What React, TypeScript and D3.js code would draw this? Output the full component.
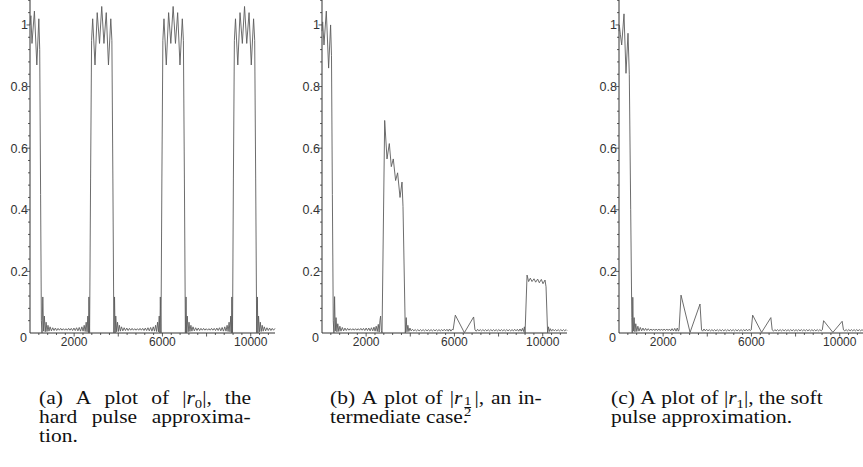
import React, { useLayoutEffect, useRef } from 'react';
import * as d3 from 'd3';

const W = 863;
const H = 467;

// axis ticks
const xTickLabels = [2000, 6000, 10000];
const yTickLabels = [0.2, 0.4, 0.6, 0.8, 1];
const xDomain: [number, number] = [0, 11100];
const yDomain: [number, number] = [0, 1.081];

// |r0| : hard pulse approximation
const seriesA: [number, number][] = [
  [0,1.0],[40,1.03],[90,0.94],[200,1.045],[310,0.87],[400,1.02],[440,0.92],[480,0.45],[515,0.04],[545,0.0],[580,0.117],[615,0.006],[650,0.055],[690,0.004],[730,0.035],[770,0.005],[815,0.025],[860,0.006],[910,0.02],[970,0.007],[1030,0.017],[1090,0.008],[1150,0.016],[1210,0.008],[1270,0.015],[1330,0.009],[1390,0.015],[1450,0.009],[1510,0.014],[1570,0.009],[1630,0.014],[1690,0.009],[1750,0.015],[1810,0.009],[1870,0.015],[1930,0.008],[1990,0.016],[2050,0.008],[2110,0.017],[2170,0.007],[2230,0.018],[2290,0.006],[2350,0.02],[2405,0.006],[2455,0.025],[2500,0.005],[2545,0.035],[2585,0.004],[2620,0.055],[2650,0.0],[2670,0.117],[2700,0.0],
  [2745,0.5],[2790,0.95],[2840,1.02],[2945,0.87],[3045,1.04],[3150,0.94],[3250,1.06],[3350,0.94],[3455,1.04],[3555,0.87],[3660,1.02],[3710,0.95],[3755,0.5],[3800,0.0],[3830,0.117],[3855,0.0],[3885,0.055],[3925,0.004],[3965,0.035],[4005,0.005],[4050,0.025],[4095,0.006],[4145,0.02],[4205,0.007],[4265,0.017],[4325,0.008],[4385,0.016],[4445,0.008],[4505,0.015],[4565,0.009],[4625,0.015],[4685,0.009],[4745,0.014],[4805,0.009],[4865,0.014],[4925,0.009],[4985,0.015],[5045,0.009],[5105,0.015],[5165,0.008],[5225,0.016],[5285,0.008],[5345,0.017],[5405,0.007],[5465,0.018],[5525,0.006],[5585,0.02],[5640,0.006],[5690,0.025],[5735,0.005],[5780,0.035],[5820,0.004],[5855,0.055],[5885,0.0],[5905,0.117],[5935,0.0],
  [5975,0.5],[6020,0.95],[6070,1.02],[6175,0.87],[6280,1.04],[6380,0.94],[6485,1.06],[6590,0.94],[6690,1.04],[6795,0.87],[6900,1.02],[6950,0.95],[6995,0.5],[7040,0.0],[7070,0.117],[7095,0.0],[7125,0.055],[7165,0.004],[7205,0.035],[7245,0.005],[7290,0.025],[7335,0.006],[7385,0.02],[7445,0.007],[7505,0.017],[7565,0.008],[7625,0.016],[7685,0.008],[7745,0.015],[7805,0.009],[7865,0.015],[7925,0.009],[7985,0.014],[8045,0.009],[8105,0.014],[8165,0.009],[8225,0.015],[8285,0.009],[8345,0.015],[8405,0.008],[8465,0.016],[8525,0.008],[8585,0.017],[8645,0.007],[8705,0.018],[8765,0.006],[8825,0.02],[8880,0.006],[8930,0.025],[8975,0.005],[9020,0.035],[9060,0.004],[9095,0.055],[9125,0.0],[9145,0.117],[9175,0.0],
  [9215,0.5],[9260,0.95],[9310,1.02],[9415,0.87],[9515,1.04],[9620,0.94],[9720,1.06],[9820,0.94],[9925,1.04],[10025,0.87],[10130,1.02],[10180,0.95],[10225,0.5],[10270,0.0],[10300,0.117],[10325,0.0],[10355,0.055],[10395,0.004],[10435,0.035],[10475,0.005],[10520,0.025],[10565,0.006],[10615,0.02],[10675,0.007],[10735,0.017],[10795,0.008],[10855,0.016],[10915,0.008],[10975,0.015],[11035,0.009],[11100,0.015],
];

// |r_{1/2}| : intermediate case
const seriesB: [number, number][] = [
  [0,0.98],[30,1.01],[90,0.935],[195,1.045],[300,0.86],[390,1.0],[430,0.9],[470,0.45],[510,0.04],[540,0.0],[570,0.118],[600,0.006],[635,0.05],[675,0.004],[715,0.03],[760,0.005],[810,0.022],[860,0.006],[920,0.018],[980,0.007],[1040,0.016],[1100,0.008],[1160,0.015],[1220,0.009],[1280,0.014],[1340,0.009],[1400,0.014],[1460,0.009],[1520,0.014],[1580,0.009],[1640,0.014],[1700,0.009],[1760,0.015],[1820,0.009],[1880,0.015],[1940,0.008],[2000,0.016],[2060,0.008],[2120,0.016],[2180,0.007],[2240,0.017],[2300,0.007],[2355,0.019],[2405,0.006],[2455,0.022],[2505,0.005],[2550,0.028],[2590,0.003],[2625,0.04],[2655,0.055],[2690,0.008],[2720,0.0],
  [2840,0.69],[2945,0.565],[3050,0.615],[3140,0.54],[3230,0.565],[3335,0.495],[3425,0.52],[3535,0.44],[3625,0.49],[3670,0.41],[3775,0.0],[3815,0.05],[3850,0.004],[3890,0.025],[3935,0.005],[3985,0.016],[4040,0.007],[4100,0.012],[4160,0.007],[4220,0.011],[4280,0.007],[4340,0.011],[4400,0.007],[4460,0.011],[4520,0.007],[4580,0.011],[4640,0.007],[4700,0.011],[4760,0.007],[4820,0.011],[4880,0.007],[4940,0.011],[5000,0.007],[5060,0.011],[5120,0.007],[5180,0.011],[5240,0.007],[5300,0.011],[5360,0.007],[5420,0.011],[5480,0.007],[5540,0.012],[5600,0.007],[5660,0.012],[5720,0.006],[5780,0.013],[5840,0.006],[5900,0.012],[5940,0.01],
  [6040,0.058],[6450,0.001],[6870,0.052],[6930,0.01],[6990,0.006],[7050,0.012],[7110,0.007],[7170,0.011],[7230,0.007],[7290,0.011],[7350,0.007],[7410,0.011],[7470,0.007],[7530,0.011],[7590,0.007],[7650,0.011],[7710,0.007],[7770,0.011],[7830,0.007],[7890,0.011],[7950,0.007],[8010,0.011],[8070,0.007],[8130,0.011],[8190,0.007],[8250,0.011],[8310,0.007],[8370,0.011],[8430,0.007],[8490,0.011],[8550,0.007],[8610,0.011],[8670,0.007],[8730,0.012],[8790,0.007],[8850,0.012],[8910,0.006],[8970,0.013],[9030,0.006],[9080,0.015],[9130,0.005],[9170,0.02],[9200,0.0],
  [9290,0.188],[9362,0.167],[9438,0.178],[9515,0.167],[9605,0.176],[9680,0.165],[9770,0.175],[9846,0.163],[9937,0.174],[10013,0.16],[10104,0.172],[10150,0.15],[10222,0.0],[10260,0.02],[10300,0.005],[10345,0.014],[10400,0.006],[10460,0.012],[10520,0.007],[10580,0.011],[10640,0.007],[10700,0.011],[10760,0.007],[10820,0.011],[10880,0.007],[10940,0.011],[11000,0.007],[11060,0.011],[11100,0.008],
];

// |r1| : soft pulse approximation
const seriesC: [number, number][] = [
  [0,0.98],[14,1.0],[60,0.97],[122,0.935],[227,1.036],[317,0.843],[408,0.973],[467,0.84],[530,0.4],[580,0.05],[600,0.0],[625,0.116],[650,0.006],[685,0.05],[720,0.004],[760,0.03],[805,0.005],[855,0.022],[905,0.006],[965,0.018],[1025,0.007],[1085,0.016],[1145,0.008],[1205,0.015],[1265,0.008],[1325,0.014],[1385,0.008],[1445,0.013],[1505,0.008],[1565,0.013],[1625,0.008],[1685,0.013],[1745,0.008],[1805,0.013],[1865,0.008],[1925,0.013],[1985,0.008],[2045,0.013],[2105,0.008],[2165,0.013],[2225,0.008],[2285,0.013],[2345,0.007],[2405,0.014],[2465,0.007],[2525,0.015],[2585,0.006],[2640,0.016],[2690,0.006],[2720,0.01],
  [2810,0.123],[3220,0.002],[3670,0.094],[3740,0.01],[3790,0.006],[3850,0.013],[3910,0.007],[3970,0.012],[4030,0.007],[4090,0.011],[4150,0.007],[4210,0.011],[4270,0.007],[4330,0.011],[4390,0.007],[4450,0.011],[4510,0.007],[4570,0.011],[4630,0.007],[4690,0.011],[4750,0.007],[4810,0.011],[4870,0.007],[4930,0.011],[4990,0.007],[5050,0.011],[5110,0.007],[5170,0.011],[5230,0.007],[5290,0.011],[5350,0.007],[5410,0.011],[5470,0.007],[5530,0.011],[5590,0.007],[5650,0.011],[5710,0.007],[5770,0.012],[5830,0.007],[5890,0.012],[5950,0.008],[5990,0.01],
  [6055,0.058],[6460,0.002],[6880,0.05],[6940,0.01],[7000,0.006],[7060,0.011],[7120,0.007],[7180,0.011],[7240,0.007],[7300,0.011],[7360,0.007],[7420,0.011],[7480,0.007],[7540,0.011],[7600,0.007],[7660,0.011],[7720,0.007],[7780,0.011],[7840,0.007],[7900,0.011],[7960,0.007],[8020,0.011],[8080,0.007],[8140,0.011],[8200,0.007],[8260,0.011],[8320,0.007],[8380,0.011],[8440,0.007],[8500,0.011],[8560,0.007],[8620,0.011],[8680,0.007],[8740,0.011],[8800,0.007],[8860,0.011],[8920,0.007],[8980,0.011],[9040,0.007],[9100,0.011],[9160,0.007],[9210,0.01],
  [9270,0.04],[9690,0.002],[10110,0.038],[10170,0.01],[10230,0.007],[10290,0.011],[10350,0.007],[10410,0.011],[10470,0.007],[10530,0.011],[10590,0.007],[10650,0.011],[10710,0.007],[10770,0.011],[10830,0.007],[10890,0.011],[10950,0.007],[11010,0.011],[11070,0.007],[11100,0.009],
];

const panels = [
  { key: 'a', x0: 30, data: seriesA },
  { key: 'b', x0: 322, data: seriesB },
  { key: 'c', x0: 619, data: seriesC },
];

const captionLines = [
  { x: 39, y: 404, justify: true, words: ['(a)', 'A', 'plot', 'of', '|r0|,', 'the'] },
  { x: 39, y: 423, justify: true, words: ['hard', 'pulse', 'approxima-'] },
  { x: 39, y: 442, justify: false, words: ['tion.'] },
  { x: 330, y: 404, justify: true, words: ['(b)', 'A', 'plot', 'of', '|rhalf|,', 'an', 'in-'] },
  { x: 330, y: 423, justify: false, words: ['termediate', 'case.'] },
  { x: 611, y: 404, justify: true, words: ['(c)', 'A', 'plot', 'of', '|r1|,', 'the', 'soft'] },
  { x: 611, y: 423, justify: false, words: ['pulse', 'approximation.'] },
];

const PLOT_W = 245;
const Y_BOTTOM = 333;
const Y_TOP = 0;
const AXIS = '#333';
const LINE = '#5c5c5c';
const SANS = '"Liberation Sans", Arial, Helvetica, sans-serif';
const SERIF = '"Liberation Serif", "Times New Roman", Times, serif';
const CAP_FS = 19;
const SUB_FS = 13;
const CAP_SX = 1.13; // horizontal stretch of caption glyphs
const COL_W = 212;

function Panel({ x0, data }: { x0: number; data: [number, number][] }) {
  const x = d3.scaleLinear().domain(xDomain).range([x0, x0 + PLOT_W]);
  const y = d3.scaleLinear().domain(yDomain).range([Y_BOTTOM, Y_TOP]);
  const line = d3
    .line<[number, number]>()
    .x((d) => x(d[0]))
    .y((d) => y(d[1]));
  const yTicks = d3.range(1, 28).map((i) => ({ v: i * 0.04, major: i % 5 === 0 }));
  const xTicks = d3.range(1, 28).map((i) => ({ v: i * 400, major: i % 5 === 0 }));
  return (
    <g>
      <line x1={x0} x2={x0} y1={Y_BOTTOM} y2={Y_TOP} stroke={AXIS} strokeWidth={1} />
      <line x1={x0} x2={x0 + PLOT_W} y1={Y_BOTTOM} y2={Y_BOTTOM} stroke={AXIS} strokeWidth={1} />
      {yTicks.map((t) => (
        <line
          key={'y' + t.v}
          x1={x0 - (t.major ? 3.5 : 2)}
          x2={x0}
          y1={y(t.v)}
          y2={y(t.v)}
          stroke={AXIS}
          strokeWidth={0.8}
        />
      ))}
      {xTicks.map((t) => (
        <line
          key={'x' + t.v}
          x1={x(t.v)}
          x2={x(t.v)}
          y1={Y_BOTTOM}
          y2={Y_BOTTOM + (t.major ? 3.5 : 2)}
          stroke={AXIS}
          strokeWidth={0.8}
        />
      ))}
      {yTickLabels.map((v) => (
        <text
          key={'yl' + v}
          x={x0 - 2}
          y={y(v)}
          dy="0.35em"
          textAnchor="end"
          fontFamily={SANS}
          fontSize={12.5}
          fill={AXIS}
        >
          {String(v)}
        </text>
      ))}
      <text x={x0 - 3} y={Y_BOTTOM + 9} textAnchor="end" fontFamily={SANS} fontSize={12.5} fill={AXIS}>
        0
      </text>
      {xTickLabels.map((v) => (
        <text
          key={'xl' + v}
          x={x(v)}
          y={Y_BOTTOM + 13}
          textAnchor="middle"
          fontFamily={SANS}
          fontSize={12}
          fill={AXIS}
        >
          {String(v)}
        </text>
      ))}
      <path d={line(data) || ''} fill="none" stroke={LINE} strokeWidth={0.9} strokeLinejoin="round" />
    </g>
  );
}

function Word({ w, y }: { w: string; y: number }) {
  if (w === '|r0|,' || w === '|r1|,') {
    const sub = w === '|r0|,' ? '0' : '1';
    return (
      <g className="w">
        <text y={y}>
          |<tspan fontStyle="italic">r</tspan>
          <tspan fontSize={SUB_FS} dy={4}>
            {sub}
          </tspan>
          <tspan dy={-4}>|,</tspan>
        </text>
      </g>
    );
  }
  if (w === '|rhalf|,') {
    return (
      <g className="w">
        <text y={y}>
          |<tspan fontStyle="italic">r</tspan>
        </text>
        <text x={16} y={y + 1.5} fontSize={SUB_FS} textAnchor="middle">
          1
        </text>
        <line x1={13} x2={19} y1={y + 3.5} y2={y + 3.5} stroke="#111" strokeWidth={1} />
        <text x={16} y={y + 12.5} fontSize={SUB_FS} textAnchor="middle">
          2
        </text>
        <text x={22} y={y}>
          |,
        </text>
      </g>
    );
  }
  return (
    <g className="w">
      <text y={y}>{w}</text>
    </g>
  );
}

function Captions() {
  const ref = useRef<SVGGElement>(null);
  useLayoutEffect(() => {
    if (!ref.current) return;
    d3.select(ref.current)
      .selectAll<SVGGElement, unknown>('g.cline')
      .each(function () {
        const g = this as SVGGElement;
        const justify = g.getAttribute('data-justify') === '1';
        const words = Array.from(g.querySelectorAll<SVGGElement>(':scope > g.w'));
        const widths = words.map((n) => n.getBBox().width);
        const total = d3.sum(widths);
        const colW = COL_W / CAP_SX;
        const gap = justify && words.length > 1 ? (colW - total) / (words.length - 1) : CAP_FS * 0.25;
        let cx = 0;
        words.forEach((n, i) => {
          n.setAttribute('transform', `translate(${cx},0)`);
          cx += widths[i] + gap;
        });
      });
  }, []);
  return (
    <g ref={ref} fontFamily={SERIF} fontSize={CAP_FS} fill="#111">
      {captionLines.map((ln, li) => (
        <g
          key={li}
          className="cline"
          data-justify={ln.justify ? '1' : '0'}
          transform={`translate(${ln.x},0) scale(${CAP_SX},1)`}
        >
          {ln.words.map((w, wi) => (
            <Word key={wi} w={w} y={ln.y} />
          ))}
        </g>
      ))}
    </g>
  );
}

export default function App() {
  return (
    <svg
      width={W}
      height={H}
      viewBox={`0 0 ${W} ${H}`}
      style={{ position: 'absolute', left: 0, top: 0, background: '#fff' }}
    >
      <rect width={W} height={H} fill="#fff" />
      {panels.map((p) => (
        <Panel key={p.key} x0={p.x0} data={p.data} />
      ))}
      <Captions />
    </svg>
  );
}
